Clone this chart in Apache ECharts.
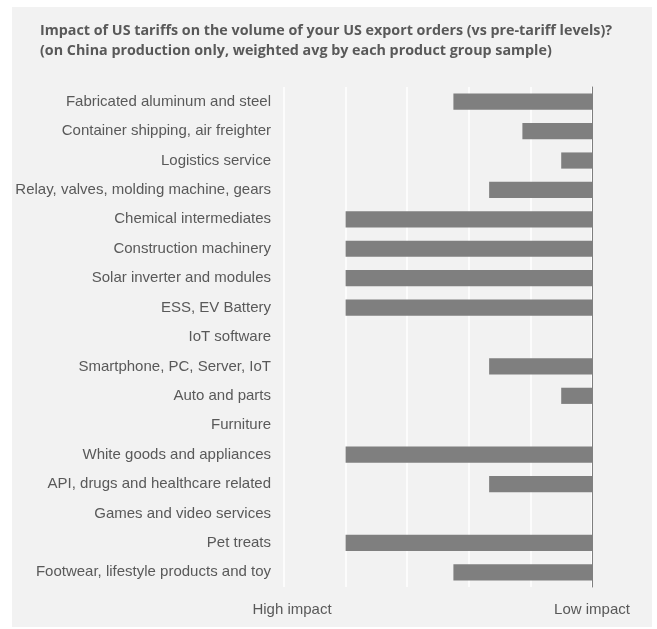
<!DOCTYPE html>
<html><head><meta charset="utf-8">
<script src="https://cdn.jsdelivr.net/npm/echarts@6/dist/echarts.min.js"></script>
<style>html,body{margin:0;padding:0;background:#fff}#c{width:657px;height:629px}</style>
</head><body><div id="c"></div>
<script>
const categories = [
  "Fabricated aluminum and steel",
  "Container shipping, air freighter",
  "Logistics service",
  "Relay, valves, molding machine, gears",
  "Chemical intermediates",
  "Construction machinery",
  "Solar inverter and modules",
  "ESS, EV Battery",
  "IoT software",
  "Smartphone, PC, Server, IoT",
  "Auto and parts",
  "Furniture",
  "White goods and appliances",
  "API, drugs and healthcare related",
  "Games and video services",
  "Pet treats",
  "Footwear, lifestyle products and toy"
];
const impactValues = [2.25, 1.13, 0.5, 1.67, 4, 4, 4, 4, 0, 1.67, 0.5, 0, 4, 1.67, 0, 4, 2.25];
const axisEndLabels = {0: "Low impact", 5: "High impact"};
const titleLines = [
  "Impact of US tariffs on the volume of your US export orders (vs pre-tariff levels)?",
  "(on China production only, weighted avg by each product group sample)"
];

const chart = echarts.init(document.getElementById('c'), null, {renderer: 'canvas'});
chart.setOption({
  backgroundColor: '#ffffff',
  animation: false,
  graphic: [{
    type: 'rect', z: -10, silent: true,
    shape: {x: 12, y: 7, width: 640, height: 620},
    style: {fill: '#f2f2f2'}
  }],
  title: {
    text: titleLines.join('\n'),
    left: 35, top: 16,
    textStyle: {fontFamily: 'Open Sans', fontWeight: 'bold', fontSize: 14.3, color: '#595959', lineHeight: 20}
  },
  grid: {left: 284, right: 65, top: 87, bottom: 42, containLabel: false},
  xAxis: {
    type: 'value', inverse: true, min: 0, max: 5, interval: 1,
    axisLine: {show: false}, axisTick: {show: false},
    splitLine: {show: true, lineStyle: {color: '#ffffff', width: 1.5}},
    axisLabel: {
      margin: 15,
      fontFamily: 'Liberation Sans', fontSize: 15, color: '#595959',
      formatter: v => v === 5 ? '{h|' + axisEndLabels[5] + '}' : (axisEndLabels[v] || ''),
      rich: {h: {fontFamily: 'Liberation Sans', fontSize: 15, color: '#595959', padding: [0, 0, 0, 16]}}
    }
  },
  yAxis: [{
    type: 'category', data: categories, inverse: true, position: 'left',
    axisLine: {show: false}, axisTick: {show: false},
    axisLabel: {margin: 13, fontFamily: 'Liberation Sans', fontSize: 15, color: '#595959'}
  }, {
    type: 'category', data: categories, inverse: true, position: 'right',
    axisLine: {show: true, onZero: false, lineStyle: {color: '#7f7f7f', width: 1}},
    axisTick: {show: false}, axisLabel: {show: false}
  }],
  series: [{
    type: 'bar', data: impactValues, barCategoryGap: '45%',
    itemStyle: {color: '#7f7f7f'}
  }]
});
</script></body></html>
